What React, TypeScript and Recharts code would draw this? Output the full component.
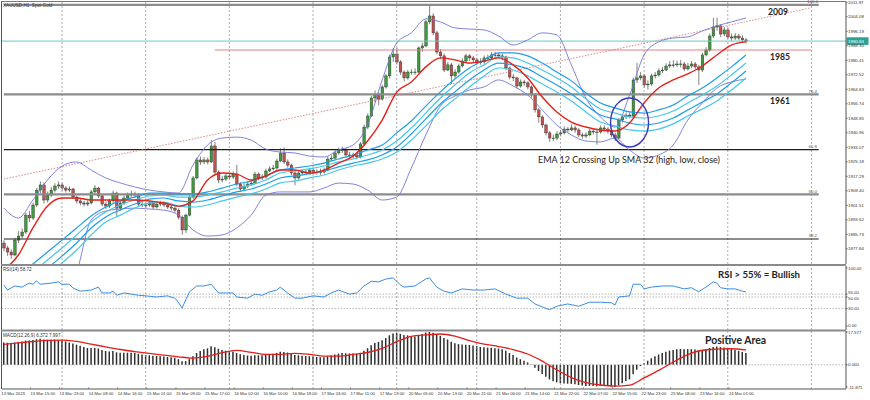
import React from 'react';
import { ComposedChart, Bar, Line, XAxis, YAxis, ReferenceLine, ReferenceDot } from 'recharts';

// XAUUSD H1, 13 Mar - 24 Mar 2023
const firstOpen = 1881.0;
const closes = [
  1878.3, 1876.1, 1874.5, 1882.6, 1884.8, 1887.0, 1896.2, 1894.6, 1901.7, 1909.8,
  1912.6, 1904.4, 1907.1, 1909.8, 1912.0, 1912.6, 1910.9, 1909.8, 1910.4, 1906.0,
  1903.9, 1902.8, 1902.2, 1902.8, 1908.8, 1910.9, 1906.6, 1902.2, 1901.1, 1903.9,
  1908.2, 1900.0, 1902.8, 1905.5, 1907.1, 1907.7, 1907.1, 1902.2, 1901.7, 1901.7,
  1902.8, 1900.6, 1902.2, 1902.8, 1901.7, 1900.6, 1900.0, 1898.9, 1895.1, 1888.1,
  1896.2, 1906.0, 1916.4, 1926.2, 1925.1, 1926.2, 1925.1, 1933.8, 1919.6, 1915.3,
  1915.8, 1917.5, 1916.9, 1918.5, 1913.1, 1910.4, 1912.0, 1913.1, 1913.6, 1918.5,
  1916.4, 1916.9, 1920.2, 1921.3, 1921.8, 1925.6, 1930.0, 1925.1, 1923.4, 1919.1,
  1916.4, 1919.1, 1919.6, 1919.6, 1920.7, 1919.6, 1919.6, 1919.6, 1920.7, 1926.7,
  1927.2, 1930.0, 1931.6, 1931.6, 1928.9, 1928.9, 1928.9, 1927.8, 1934.9, 1944.1,
  1950.1, 1959.9, 1961.5, 1959.3, 1965.9, 1971.9, 1982.2, 1983.8, 1979.5, 1974.0,
  1970.8, 1974.0, 1974.0, 1974.0, 1987.1, 1988.2, 2001.3, 2004.5, 1995.3, 1984.9,
  1982.8, 1975.1, 1977.9, 1971.9, 1974.0, 1977.3, 1980.0, 1982.8, 1981.7, 1980.6,
  1979.5, 1979.5, 1981.7, 1981.7, 1983.3, 1983.3, 1982.8, 1982.2, 1976.2, 1971.3,
  1970.8, 1966.4, 1968.6, 1968.1, 1965.9, 1961.5, 1953.4, 1949.6, 1945.2, 1940.9,
  1938.1, 1938.1, 1940.3, 1940.9, 1943.0, 1942.5, 1943.6, 1942.5, 1939.8, 1939.2,
  1939.8, 1941.9, 1941.4, 1941.4, 1943.6, 1943.0, 1941.9, 1939.8, 1938.1, 1947.9,
  1949.6, 1950.6, 1950.1, 1969.7, 1970.8, 1971.9, 1967.0, 1967.5, 1971.9, 1972.4,
  1974.6, 1975.1, 1977.3, 1977.9, 1977.9, 1978.4, 1978.4, 1975.7, 1977.3, 1978.4,
  1976.8, 1975.1, 1983.3, 1986.0, 1993.6, 1998.5, 1999.1, 1994.7, 1996.9, 1993.1,
  1992.5, 1993.6, 1992.5, 1991.5, 1990.84,
];
const highs = [
  1882.5, 1879.5, 1877.5, 1883.8, 1887.5, 1889.0, 1897.5, 1898.5, 1903.0, 1911.0,
  1914.5, 1914.0, 1909.0, 1911.5, 1913.5, 1914.5, 1913.5, 1912.0, 1911.8, 1911.0,
  1907.0, 1905.0, 1904.0, 1904.2, 1910.0, 1912.5, 1911.5, 1907.5, 1903.5, 1905.0,
  1909.5, 1909.0, 1904.0, 1906.8, 1908.5, 1909.5, 1909.0, 1908.0, 1903.5, 1903.0,
  1904.0, 1903.5, 1903.5, 1904.0, 1903.5, 1902.5, 1901.8, 1901.0, 1899.8, 1896.0,
  1897.0, 1907.0, 1917.5, 1927.5, 1928.0, 1927.8, 1927.5, 1937.0, 1936.0, 1920.5,
  1917.5, 1919.0, 1918.8, 1920.0, 1923.5, 1914.2, 1913.5, 1914.5, 1915.0, 1919.8,
  1919.5, 1918.5, 1921.5, 1922.8, 1923.5, 1927.0, 1932.5, 1933.0, 1926.5, 1924.2,
  1920.5, 1920.2, 1921.0, 1921.2, 1922.0, 1921.8, 1921.0, 1921.5, 1922.0, 1928.0,
  1928.8, 1931.5, 1933.0, 1933.5, 1932.5, 1930.5, 1930.2, 1930.0, 1936.0, 1945.5,
  1951.5, 1961.0, 1964.0, 1963.0, 1967.0, 1973.0, 1983.5, 1987.0, 1987.2, 1980.5,
  1975.0, 1975.2, 1975.5, 1976.0, 1988.0, 1990.0, 2002.5, 2010.5, 2006.0, 1996.5,
  1986.5, 1984.0, 1979.5, 1979.0, 1975.5, 1978.5, 1981.5, 1984.0, 1983.8, 1982.8,
  1981.8, 1981.5, 1983.0, 1983.5, 1984.8, 1985.0, 1984.5, 1984.0, 1983.0, 1977.0,
  1973.0, 1971.5, 1970.0, 1969.8, 1969.0, 1966.8, 1962.5, 1954.5, 1950.5, 1946.0,
  1942.0, 1940.0, 1941.8, 1942.5, 1944.5, 1944.2, 1945.5, 1944.8, 1943.5, 1941.0,
  1941.2, 1943.0, 1943.0, 1942.8, 1945.0, 1944.8, 1944.0, 1942.8, 1941.0, 1949.0,
  1951.0, 1952.0, 1952.0, 1971.0, 1979.0, 1974.0, 1973.0, 1969.5, 1973.0, 1974.0,
  1976.0, 1976.8, 1978.8, 1980.0, 1980.5, 1980.2, 1980.5, 1979.5, 1979.0, 1980.0,
  1979.5, 1978.0, 1984.5, 1987.5, 1995.0, 2003.5, 2003.5, 2000.0, 1998.5, 1998.0,
  1995.0, 1995.2, 1994.8, 1994.0, 1992.5,
];
const lows = [
  1876.5, 1874.0, 1872.5, 1873.8, 1881.0, 1883.5, 1886.0, 1892.5, 1893.5, 1900.5,
  1908.0, 1902.5, 1903.0, 1906.0, 1908.5, 1910.5, 1909.5, 1908.5, 1908.8, 1905.0,
  1902.5, 1901.5, 1900.8, 1901.0, 1902.0, 1907.5, 1905.5, 1901.0, 1899.5, 1900.0,
  1903.0, 1895.5, 1898.5, 1901.8, 1904.5, 1906.0, 1905.8, 1901.0, 1900.5, 1900.2,
  1900.8, 1899.5, 1899.8, 1901.0, 1900.5, 1899.5, 1898.8, 1897.5, 1893.8, 1885.5,
  1886.5, 1895.5, 1905.0, 1915.5, 1923.5, 1924.0, 1923.8, 1924.5, 1918.0, 1913.5,
  1914.0, 1914.8, 1915.5, 1915.8, 1912.0, 1909.0, 1909.5, 1910.8, 1912.0, 1913.0,
  1915.0, 1915.2, 1916.0, 1919.5, 1920.5, 1921.0, 1925.0, 1924.0, 1922.0, 1918.0,
  1912.5, 1915.5, 1918.0, 1918.2, 1918.5, 1918.5, 1918.2, 1918.0, 1918.8, 1920.0,
  1925.5, 1926.5, 1929.0, 1930.0, 1927.5, 1927.5, 1927.2, 1926.5, 1927.0, 1934.0,
  1943.0, 1949.5, 1957.5, 1956.0, 1958.5, 1965.0, 1970.5, 1979.5, 1978.0, 1972.5,
  1969.0, 1969.8, 1972.5, 1972.5, 1973.5, 1985.0, 1987.5, 2000.0, 1994.0, 1983.5,
  1981.0, 1974.0, 1974.5, 1967.5, 1970.5, 1973.0, 1976.5, 1979.0, 1980.0, 1979.0,
  1978.0, 1978.0, 1978.5, 1980.2, 1980.8, 1981.8, 1981.2, 1980.5, 1975.0, 1970.0,
  1969.0, 1965.0, 1965.5, 1966.5, 1964.5, 1960.0, 1952.0, 1946.5, 1943.5, 1939.5,
  1936.0, 1936.5, 1937.0, 1939.0, 1940.0, 1941.0, 1941.8, 1941.0, 1938.5, 1937.8,
  1938.0, 1939.0, 1940.0, 1934.5, 1940.5, 1941.5, 1940.5, 1938.5, 1936.5, 1937.5,
  1946.5, 1948.5, 1948.8, 1949.5, 1968.0, 1969.5, 1965.5, 1964.5, 1966.5, 1970.5,
  1971.5, 1973.5, 1974.5, 1976.0, 1976.5, 1976.8, 1976.5, 1974.5, 1974.8, 1976.0,
  1975.5, 1967.0, 1974.0, 1982.5, 1985.0, 1992.5, 1996.5, 1993.0, 1993.5, 1992.0,
  1991.0, 1991.5, 1991.2, 1990.0, 1989.5,
];

// indicator lines, one reading every 4 bars (bar 0, 4, 8 ...)
const LINE_STEP = 4;
const ema12 = [
  1866.3, 1874.5, 1889.2, 1901.1, 1905.5, 1905.5, 1904.4, 1904.4, 1904.4, 1904.4,
  1903.9, 1902.8, 1901.1, 1903.9, 1915.3, 1919.1, 1918.5, 1915.3, 1917.5, 1920.7,
  1920.7, 1919.1, 1920.7, 1924.5, 1928.3, 1936.5, 1947.9, 1963.1, 1968.6, 1976.8,
  1981.7, 1980.6, 1978.9, 1980.0, 1981.7, 1977.9, 1970.8, 1960.4, 1952.3, 1946.8,
  1944.1, 1942.5, 1941.9, 1946.3, 1957.2, 1965.3, 1969.7, 1973.0, 1977.3, 1983.3,
  1988.7, 1990.4,
];
const sma32High = [
  1856.5, 1863.0, 1869.6, 1876.1, 1882.6, 1889.2, 1895.7, 1900.6, 1903.9, 1906.0,
  1908.2, 1908.2, 1907.7, 1907.7, 1908.8, 1910.9, 1913.1, 1914.7, 1917.5, 1920.7,
  1921.8, 1922.9, 1924.5, 1926.7, 1928.9, 1931.6, 1934.3, 1940.9, 1947.4, 1955.5,
  1963.2, 1970.2, 1976.2, 1980.6, 1984.4, 1984.4, 1982.8, 1978.9, 1974.0, 1969.2,
  1962.6, 1957.2, 1954.5, 1952.3, 1951.7, 1953.4, 1956.1, 1961.0, 1965.3, 1970.8,
  1976.8, 1983.3,
];
const sma32Mid = [
  1852.2, 1858.7, 1865.2, 1871.8, 1878.3, 1885.4, 1892.4, 1897.9, 1901.7, 1904.4,
  1906.6, 1907.1, 1906.0, 1906.0, 1907.1, 1908.8, 1910.9, 1912.6, 1915.3, 1919.1,
  1920.2, 1921.3, 1922.9, 1925.1, 1926.7, 1928.9, 1931.6, 1936.5, 1943.6, 1951.7,
  1959.9, 1967.0, 1973.5, 1977.9, 1982.2, 1981.7, 1978.9, 1975.1, 1970.8, 1965.9,
  1959.4, 1953.9, 1951.7, 1949.6, 1949.0, 1950.1, 1952.8, 1957.2, 1961.5, 1966.4,
  1972.4, 1978.9,
];
const sma32Close = [
  1847.8, 1854.3, 1860.9, 1867.4, 1873.9, 1881.0, 1889.2, 1895.2, 1899.0, 1902.2,
  1904.9, 1905.5, 1903.9, 1903.3, 1904.4, 1906.6, 1908.8, 1910.4, 1913.1, 1916.4,
  1917.5, 1918.6, 1920.2, 1922.4, 1924.5, 1926.2, 1928.9, 1933.2, 1940.3, 1948.5,
  1956.6, 1963.2, 1969.7, 1975.1, 1978.9, 1977.9, 1975.7, 1971.3, 1967.0, 1962.1,
  1956.1, 1950.6, 1948.5, 1946.3, 1945.2, 1946.3, 1949.0, 1953.4, 1957.7, 1962.1,
  1968.1, 1974.6,
];
const sma32Low = [
  1843.5, 1850.0, 1856.5, 1863.0, 1870.1, 1877.2, 1885.4, 1892.4, 1896.2, 1900.0,
  1902.8, 1903.3, 1901.1, 1900.6, 1901.7, 1903.9, 1906.0, 1907.7, 1910.4, 1913.7,
  1914.7, 1916.4, 1918.0, 1920.7, 1922.9, 1924.5, 1926.7, 1930.5, 1937.0, 1944.7,
  1952.8, 1959.4, 1965.9, 1971.9, 1976.2, 1975.1, 1971.9, 1967.5, 1963.2, 1958.3,
  1952.3, 1946.8, 1944.7, 1942.5, 1941.9, 1943.0, 1945.8, 1950.1, 1953.9, 1958.3,
  1964.2, 1970.8,
];
const bbUpper = [
  1900.0, 1894.6, 1904.4, 1915.3, 1922.9, 1925.1, 1920.7, 1916.4, 1913.7, 1911.5,
  1909.8, 1908.8, 1908.2, 1923.4, 1934.3, 1938.1, 1938.6, 1937.0, 1932.1, 1930.5,
  1930.0, 1928.3, 1927.8, 1931.6, 1934.3, 1945.2, 1969.7, 1989.8, 1995.3, 2002.9,
  2001.3, 1998.0, 1997.4, 1996.9, 1993.6, 1988.7, 1991.5, 1995.3, 1994.2, 1977.9,
  1959.9, 1949.6, 1944.1, 1961.5, 1983.3, 1990.4, 1992.5, 1993.1, 1996.4, 1999.1,
  2001.3, 2003.4,
];
const bbLower = [
  1863.6, 1860.9, 1858.2, 1855.4, 1852.7, 1865.2, 1893.5, 1898.4, 1899.5, 1900.0,
  1899.5, 1898.9, 1896.2, 1888.1, 1884.8, 1885.4, 1889.2, 1896.2, 1907.1, 1908.8,
  1908.8, 1908.8, 1910.9, 1913.6, 1913.1, 1909.8, 1904.4, 1906.0, 1921.8, 1939.8,
  1955.5, 1961.0, 1964.2, 1965.9, 1969.7, 1966.4, 1961.5, 1953.4, 1945.2, 1939.8,
  1936.5, 1936.0, 1938.1, 1931.6, 1927.2, 1928.9, 1934.3, 1947.9, 1957.2, 1965.3,
  1968.6, 1970.2,
];

// RSI(14) readings as [bar, value]
const rsiPoints: [number, number][] = [
  [0, 70.7], [1, 62], [3, 69], [5, 67], [7, 74], [8, 72], [9, 77.6], [10, 72], [13, 74], [15, 76],
  [16, 72], [18, 72], [19, 65.5], [21, 60], [24, 62], [26, 67], [27, 57], [29, 57], [30, 60], [31, 53],
  [33, 57], [35, 55], [37, 53], [39, 52], [42, 50], [45, 52], [47, 48], [48, 41], [49, 31], [51, 58.6],
  [53, 69], [55, 69], [57, 72], [59, 57], [61, 57], [63, 57], [64, 50], [67, 48], [69, 55], [71, 53],
  [73, 58.6], [75, 62], [76, 67], [78, 57], [80, 48], [82, 48], [85, 52], [88, 50], [90, 57], [92, 62],
  [95, 55], [97, 57], [99, 69], [101, 77], [103, 76], [105, 81], [107, 83], [109, 71], [110, 67], [113, 69],
  [116, 81], [117, 83], [119, 67], [121, 60], [123, 57], [126, 64], [129, 62], [132, 62], [135, 64], [138, 55],
  [141, 48], [144, 48], [146, 38], [148, 33], [150, 28], [152, 34], [155, 38], [158, 34], [161, 41], [164, 41],
  [167, 40], [168, 36], [169, 50], [172, 52], [173, 72], [175, 72], [176, 64], [178, 67], [181, 69], [184, 69],
  [187, 64], [189, 66], [191, 59], [193, 67], [195, 76], [196, 74], [197, 66], [199, 64], [201, 64], [203, 60],
  [204, 58.72],
];

// MACD(12,26,9): main per bar, signal every 4 bars
const macdMain = [
  12.0, 11.8, 11.5, 11.9, 12.3, 12.5, 13.0, 13.0, 13.3, 13.7,
  13.9, 13.5, 13.4, 13.4, 13.4, 13.2, 12.9, 12.5, 12.0, 11.4,
  10.8, 10.2, 9.6, 9.0, 9.0, 9.1, 8.7, 8.0, 7.4, 7.2,
  7.4, 6.7, 6.4, 6.4, 6.5, 6.5, 6.4, 5.9, 5.5, 5.2,
  5.1, 4.8, 4.7, 4.6, 4.4, 4.2, 4.0, 3.7, 3.0, 1.9,
  2.0, 3.0, 4.6, 6.3, 7.4, 8.3, 8.8, 9.9, 9.4, 8.6,
  8.0, 7.6, 7.2, 7.0, 6.3, 5.6, 5.2, 5.0, 4.8, 5.1,
  5.1, 5.1, 5.4, 5.7, 5.9, 6.4, 7.0, 6.9, 6.6, 6.0,
  5.3, 5.1, 4.9, 4.7, 4.6, 4.4, 4.2, 4.1, 4.1, 4.6,
  5.0, 5.5, 6.0, 6.3, 6.2, 6.1, 6.0, 5.8, 6.4, 7.6,
  8.9, 10.5, 11.7, 12.3, 13.2, 14.3, 15.8, 16.8, 17.0, 16.6,
  16.0, 15.8, 15.5, 15.2, 15.9, 16.5, 17.3, 17.58, 17.2, 16.4,
  15.5, 14.4, 13.6, 12.4, 11.6, 11.1, 10.9, 10.8, 10.6, 10.3,
  10.0, 9.6, 9.4, 9.2, 9.1, 8.9, 8.7, 8.4, 7.5, 6.3,
  5.2, 3.9, 3.0, 2.2, 1.3, 0.2, -1.6, -3.3, -4.9, -6.4,
  -7.8, -8.8, -9.4, -9.8, -10.0, -10.1, -10.2, -10.4, -10.8, -11.1,
  -11.3, -11.3, -11.4, -11.5, -11.3, -11.2, -11.3, -11.5, -11.87, -10.9,
  -9.8, -8.7, -7.8, -5.0, -2.6, -0.7, 0.8, 2.2, 3.5, 4.6,
  5.5, 6.3, 7.0, 7.6, 8.0, 8.3, 8.5, 8.4, 8.4, 8.4,
  8.2, 7.8, 8.0, 8.4, 9.0, 9.6, 9.8, 9.5, 9.3, 8.9,
  8.4, 8.0, 7.5, 6.9, 6.372,
];
const macdSignal = [
  11.0, 11.8, 12.5, 13.1, 13.2, 12.5, 11.1, 9.6, 8.2, 7.1,
  6.1, 5.2, 4.3, 3.6, 4.6, 6.5, 7.7, 6.7, 5.6, 5.6,
  6.1, 5.6, 4.7, 4.7, 5.6, 6.6, 8.8, 12.4, 15.2, 16.0,
  16.5, 15.4, 13.0, 11.1, 9.8, 8.2, 5.8, 2.0, -2.7, -6.8,
  -9.5, -10.8, -11.4, -10.9, -7.0, -3.0, 1.5, 5.5, 7.8, 8.4,
  8.6, 7.997,
];

const timeLabels = [
  '13 Mar 2023', '13 Mar 15:00', '13 Mar 23:00', '14 Mar 08:00', '14 Mar 16:00', '15 Mar 01:00',
  '15 Mar 09:00', '15 Mar 17:00', '16 Mar 02:00', '16 Mar 10:00', '16 Mar 18:00', '17 Mar 03:00',
  '17 Mar 11:00', '17 Mar 19:00', '20 Mar 05:00', '20 Mar 13:00', '20 Mar 21:00', '21 Mar 06:00',
  '21 Mar 14:00', '21 Mar 22:00', '22 Mar 07:00', '22 Mar 15:00', '22 Mar 23:00', '23 Mar 08:00',
  '23 Mar 16:00', '24 Mar 01:00',
];
const LABEL_EVERY = 8;
const priceTicks = [
  2011.97, 2004.08, 1996.19, 1988.3, 1980.41, 1972.52, 1964.63, 1956.74, 1948.85,
  1940.96, 1933.07, 1925.18, 1917.29, 1909.4, 1901.51, 1893.62, 1885.73, 1877.84,
];
const rsiTicks = [100, 55, 50, 30, 0];
const rsiLevels = [55, 50, 30];
const macdTicks = [17.577, 0, -11.871];

const fibLevels = [
  { text: '100.0', price: 2010.5, heavy: true },
  { text: '76.4', price: 1961.9, heavy: true },
  { text: '61.8', price: 1931.8, heavy: false },
  { text: '50.0', price: 1907.5, heavy: true },
  { text: '38.2', price: 1883.2, heavy: false },
];
const lastPrice = 1990.84;
const resistance = 1986;
const trendStart = { bar: 0, price: 1915.8 };
const trendEnd = { bar: 222, price: 2009.0 };
const crossBar = 172;
const crossPrice = 1946.6;
const gridBars = [16, 39, 62, 85, 108, 130, 153, 176, 199, 222];

const TOTAL_SLOTS = 232;
const W = 870;
const AXIS_W = 24;

const rows = Array.from({ length: TOTAL_SLOTS }, (_, i) => {
  const row: any = { i };
  if (i < closes.length) {
    row.o = i === 0 ? firstOpen : closes[i - 1];
    row.h = highs[i];
    row.l = lows[i];
    row.c = closes[i];
    row.range = [lows[i], highs[i]];
    row.macd = macdMain[i];
  }
  if (i % LINE_STEP === 0 && i / LINE_STEP < ema12.length) {
    const k = i / LINE_STEP;
    row.ema = ema12[k];
    row.s1 = sma32High[k];
    row.s2 = sma32Mid[k];
    row.s3 = sma32Close[k];
    row.s4 = sma32Low[k];
    row.bbU = bbUpper[k];
    row.bbL = bbLower[k];
    row.sig = macdSignal[k];
  }
  return row;
});
rsiPoints.forEach(([i, v]) => {
  rows[i].rsi = v;
});

const Candle = (props: any) => {
  const { x, y, width, height, payload } = props;
  if (!payload || payload.c == null) return null;
  const { o, h, l, c } = payload;
  const cx = x + width / 2;
  const k = h === l ? 0 : height / (h - l);
  const top = y + (h - Math.max(o, c)) * k;
  const bot = y + (h - Math.min(o, c)) * k;
  const up = c >= o;
  return (
    <g>
      <line x1={cx} x2={cx} y1={y} y2={y + height} stroke="#4a4a4a" strokeWidth={0.7} />
      <rect
        x={cx - 1.3}
        y={top}
        width={2.6}
        height={Math.max(bot - top, 0.7)}
        fill={up ? '#3d9b3d' : '#c2504e'}
        stroke="#2a2a2a"
        strokeWidth={0.4}
      />
    </g>
  );
};

// nudges so the two near RSI labels (55 / 50) stay readable
const tickNudge: Record<string, number> = { '55.00': -1.2, '50.00': 1.4 };

const AxisText = (props: any) => {
  const { x, y, payload, fmt } = props;
  const txt = fmt(payload.value);
  return (
    <text
      x={x}
      y={y + 1.5 + (tickNudge[txt] || 0)}
      fontSize={4.4}
      fill="#333"
      fontFamily="'Liberation Sans', Arial, sans-serif"
    >
      {txt}
    </text>
  );
};

const TimeTick = (props: any) => {
  const { x, y, payload } = props;
  const label = timeLabels[payload.value / LABEL_EVERY];
  if (!label) return null;
  return (
    <g>
      <line x1={x - 2.5} x2={x - 2.5} y1={y - 2} y2={y} stroke="#555" strokeWidth={0.5} />
      <text x={x - 2.5} y={y + 6.2} fontSize={4.2} fill="#333" fontFamily="'Liberation Sans', Arial, sans-serif">
        {label}
      </text>
    </g>
  );
};

const FibTag = ({ viewBox, text }: any) =>
  viewBox ? (
    <text
      x={viewBox.x + viewBox.width - 6}
      y={viewBox.y - 1.5}
      fontSize={4.4}
      fill="#555"
      textAnchor="middle"
      fontFamily="'Liberation Sans', Arial, sans-serif"
    >
      {text}
    </text>
  ) : null;

const PriceTag = ({ viewBox, text }: any) =>
  viewBox ? (
    <g>
      <rect x={viewBox.x + viewBox.width + 0.5} y={viewBox.y - 3.8} width={22} height={7.6} fill="#2aa198" />
      <text
        x={viewBox.x + viewBox.width + 2}
        y={viewBox.y + 1.6}
        fontSize={4.4}
        fill="#fff"
        fontFamily="'Liberation Sans', Arial, sans-serif"
      >
        {text}
      </text>
    </g>
  ) : null;

const CrossEllipse = (props: any) => (
  <ellipse cx={props.cx} cy={props.cy} rx={19} ry={24.5} fill="none" stroke="#3a3ab6" strokeWidth={1.4} />
);

const grid = gridBars.map((b) => (
  <ReferenceLine key={'g' + b} x={b} stroke="#8a8a8a" strokeWidth={0.7} strokeDasharray="2 2" />
));

const lineProps = { dot: false, activeDot: false, connectNulls: true, isAnimationActive: false } as const;

const priceFmt = (v: number) => v.toFixed(2);
const rsiFmt = (v: number) => v.toFixed(2);
const macdFmt = (v: number) => v.toFixed(3);

function PricePanel() {
  return (
    <ComposedChart width={W} height={264} data={rows} margin={{ top: 2, right: 0, bottom: 0, left: 2 }} barCategoryGap={0}>
      <XAxis dataKey="i" scale="band" hide />
      <YAxis
        orientation="right"
        width={AXIS_W}
        domain={[1869.6, 2012.1]}
        allowDataOverflow
        ticks={priceTicks}
        interval={0}
        tickSize={1.5}
        tickMargin={0.5}
        stroke="#555"
        tick={<AxisText fmt={priceFmt} />}
      />
      {grid}
      {fibLevels.map((f) => (
        <ReferenceLine
          key={f.text}
          segment={[{ x: 0, y: f.price }, { x: 224, y: f.price }]}
          stroke={f.heavy ? '#8c8c8c' : '#1c1c1c'}
          strokeWidth={f.heavy ? 2.2 : 1.2}
          label={<FibTag text={f.text} />}
        />
      ))}
      <ReferenceLine
        segment={[{ x: 58, y: resistance }, { x: 222, y: resistance }]}
        stroke="#e07070"
        strokeWidth={0.9}
      />
      <ReferenceLine
        segment={[{ x: trendStart.bar, y: trendStart.price }, { x: trendEnd.bar, y: trendEnd.price }]}
        stroke="#e07878"
        strokeWidth={0.9}
        strokeDasharray="1.5 1.5"
      />
      <ReferenceLine y={lastPrice} stroke="#6cc6c6" strokeWidth={1} label={<PriceTag text={lastPrice.toFixed(2)} />} />
      <Line dataKey="bbU" stroke="#7474d8" strokeWidth={0.9} type="monotone" {...lineProps} />
      <Line dataKey="bbL" stroke="#7474d8" strokeWidth={0.9} type="monotone" {...lineProps} />
      <Line dataKey="s1" stroke="#1e9fe6" strokeWidth={1.2} type="monotone" {...lineProps} />
      <Line dataKey="s2" stroke="#46c6ee" strokeWidth={1.2} type="monotone" {...lineProps} />
      <Line dataKey="s3" stroke="#1e9fe6" strokeWidth={1.2} type="monotone" {...lineProps} />
      <Line dataKey="s4" stroke="#46c6ee" strokeWidth={1.2} type="monotone" {...lineProps} />
      <Bar dataKey="range" shape={<Candle />} isAnimationActive={false} />
      <Line dataKey="ema" stroke="#e3221b" strokeWidth={1.4} type="monotone" {...lineProps} />
      <ReferenceDot x={crossBar} y={crossPrice} r={1} shape={<CrossEllipse />} />
    </ComposedChart>
  );
}

function RsiPanel() {
  return (
    <ComposedChart width={W} height={66} data={rows} margin={{ top: 2, right: 0, bottom: 0, left: 2 }}>
      <XAxis dataKey="i" scale="band" hide />
      <YAxis
        orientation="right"
        width={AXIS_W}
        domain={[-6.9, 103.45]}
        allowDataOverflow
        ticks={rsiTicks}
        interval={0}
        tickSize={1.5}
        tickMargin={0.5}
        stroke="#555"
        tick={<AxisText fmt={rsiFmt} />}
      />
      {grid}
      {rsiLevels.map((v) => (
        <ReferenceLine key={'r' + v} y={v} stroke="#9a9a9a" strokeWidth={0.7} strokeDasharray="1.5 1.5" />
      ))}
      <Line dataKey="rsi" stroke="#3a8de4" strokeWidth={1} type="linear" {...lineProps} />
    </ComposedChart>
  );
}

function MacdPanel() {
  return (
    <ComposedChart width={W} height={70} data={rows} margin={{ top: 1, right: 0, bottom: 0, left: 2 }} barCategoryGap={0}>
      <XAxis
        dataKey="i"
        scale="band"
        height={11}
        ticks={timeLabels.map((_, k) => k * LABEL_EVERY)}
        interval={0}
        tickLine={false}
        tickSize={0}
        tickMargin={0}
        stroke="#555"
        tick={<TimeTick />}
      />
      <YAxis
        orientation="right"
        width={AXIS_W}
        domain={[-12.94, 18.11]}
        allowDataOverflow
        ticks={macdTicks}
        interval={0}
        tickSize={1.5}
        tickMargin={0.5}
        stroke="#555"
        tick={<AxisText fmt={macdFmt} />}
      />
      {grid}
      <ReferenceLine y={0} stroke="#9a9a9a" strokeWidth={0.7} strokeDasharray="1.5 1.5" />
      <Bar dataKey="macd" fill="#2e2e2e" barSize={1.5} isAnimationActive={false} />
      <Line dataKey="sig" stroke="#e0201c" strokeWidth={1.3} type="monotone" {...lineProps} />
    </ComposedChart>
  );
}

const small = { fontSize: 4.6, fill: '#333', fontFamily: "'Liberation Sans', Arial, sans-serif" };
const note = { fontFamily: 'Lato, Carlito, sans-serif', fontWeight: 700, fill: '#222' } as const;

export default function App() {
  return (
    <div style={{ position: 'relative', width: W, height: 400, background: '#fff', overflow: 'hidden' }}>
      <style>{'body{margin:0}'}</style>
      <div style={{ position: 'absolute', left: 0, top: 0 }}>
        <PricePanel />
      </div>
      <div style={{ position: 'absolute', left: 0, top: 264 }}>
        <RsiPanel />
      </div>
      <div style={{ position: 'absolute', left: 0, top: 330 }}>
        <MacdPanel />
      </div>
      <svg width={W} height={400} style={{ position: 'absolute', left: 0, top: 0, pointerEvents: 'none' }}>
        <line x1={1.5} x2={1.5} y1={1} y2={389} stroke="#555" strokeWidth={1} />
        <line x1={1} x2={846} y1={1.5} y2={1.5} stroke="#777" strokeWidth={1.2} />
        <line x1={1} x2={846} y1={265} y2={265} stroke="#8a8a8a" strokeWidth={2} />
        <line x1={1} x2={846} y1={330.5} y2={330.5} stroke="#8a8a8a" strokeWidth={2} />
        <text x={3} y={7} {...small}>XAUUSD,H1: Spot Gold</text>
        <text x={3} y={271} {...small}>RSI(14) 58.72</text>
        <text x={3} y={336.5} {...small}>MACD(12,26,9) 6.372 7.997</text>
        <text x={768} y={15} fontSize={10} textLength={20} lengthAdjust="spacingAndGlyphs" {...note}>2009</text>
        <text x={770} y={60} fontSize={10} textLength={20} lengthAdjust="spacingAndGlyphs" {...note}>1985</text>
        <text x={770} y={104} fontSize={10} textLength={20} lengthAdjust="spacingAndGlyphs" {...note}>1961</text>
        <text x={538} y={163} fontSize={9.5} textLength={182} lengthAdjust="spacingAndGlyphs" fontFamily="Lato, Carlito, sans-serif" fill="#1c1c1c">
          EMA 12 Crossing Up SMA 32 (high, low, close)
        </text>
        <text x={718} y={277.5} fontSize={10} textLength={82} lengthAdjust="spacingAndGlyphs" {...note}>RSI &gt; 55% = Bullish</text>
        <text x={705} y={343.5} fontSize={10.5} textLength={61} lengthAdjust="spacingAndGlyphs" {...note}>Positive Area</text>
      </svg>
    </div>
  );
}
